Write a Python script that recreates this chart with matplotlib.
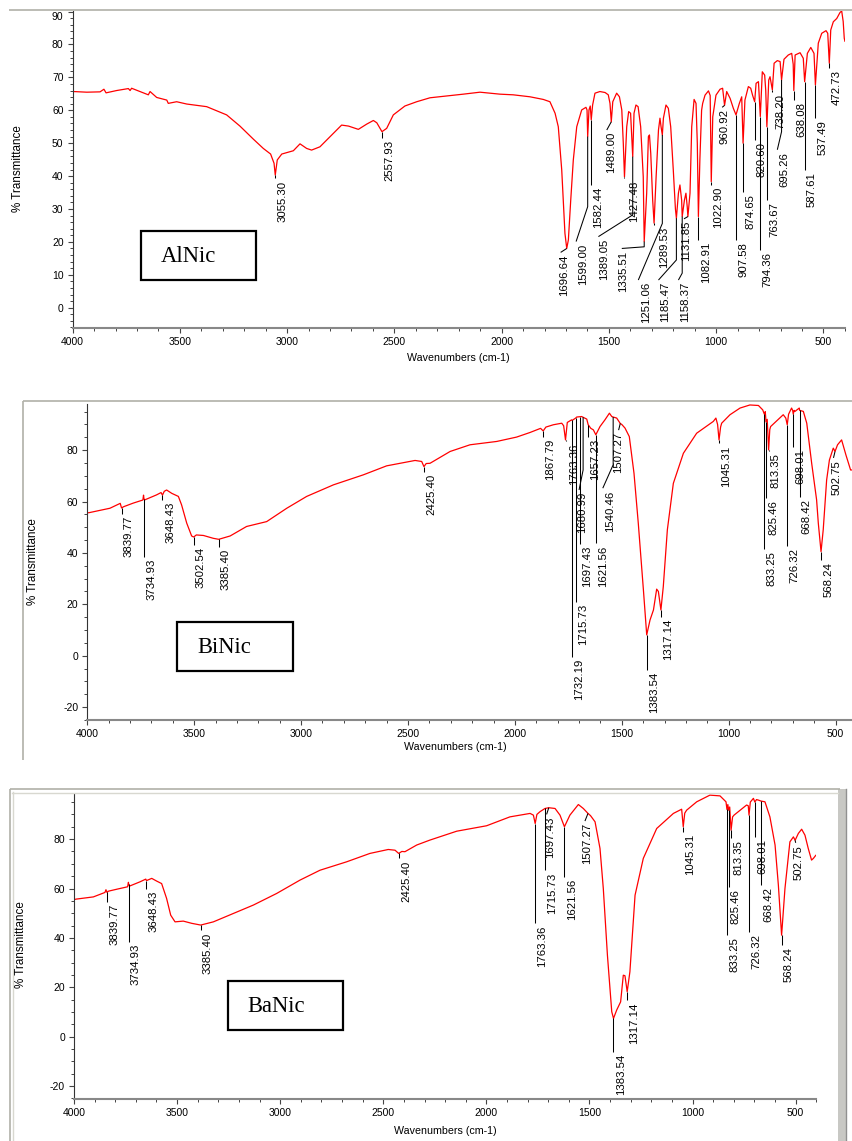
import numpy as np
import matplotlib
matplotlib.use('Agg')
import matplotlib.pyplot as plt
from matplotlib.patches import Rectangle

plt.rcParams['font.family'] = ['Liberation Sans', 'DejaVu Sans']
plt.rcParams['axes.unicode_minus'] = False

W, H = 853, 1141

# ---------------- AlNic ----------------
al_wn = [4000, 3996, 3934, 3872, 3854, 3844, 3795, 3740, 3732, 3725, 3686, 3647, 3639, 3608, 3561, 3554,
         3515, 3468, 3375, 3282, 3220, 3157, 3111, 3077, 3061, 3055.30, 3046, 3025, 2971, 2940, 2909, 2886,
         2847, 2784, 2746, 2714, 2668, 2629, 2598, 2582, 2557.93, 2536, 2505, 2451, 2396, 2334, 2179, 2101,
         2008, 1946, 1868, 1806, 1775, 1751, 1736, 1720, 1705, 1696.64, 1689, 1678, 1666, 1650, 1627, 1607,
         1602, 1599.00, 1593, 1587, 1582.44, 1576, 1565, 1542, 1518, 1503, 1495, 1489.00, 1482, 1464, 1451,
         1440, 1433, 1427.48, 1417, 1408, 1399, 1389.05, 1383, 1374, 1364, 1352, 1340, 1335.51, 1324, 1316,
         1311, 1305, 1296, 1289.53, 1280, 1269, 1262, 1257, 1251.06, 1246, 1234, 1223, 1212, 1200, 1190,
         1185.47, 1176, 1169, 1161, 1158.37, 1148, 1141, 1135, 1131.85, 1122, 1114, 1103, 1094, 1088,
         1082.91, 1076, 1068, 1063, 1052, 1036, 1028, 1022.90, 1016, 1001, 982, 970, 960.92, 951, 935, 920,
         907.58, 892, 881, 874.65, 866, 850, 839, 830, 820.60, 814, 803, 794.36, 785, 774, 769, 763.67, 755,
         749, 738.20, 730, 715, 702, 695.26, 684, 664, 648, 641, 638.08, 632, 609, 594, 587.61, 575, 559,
         544, 537.49, 524, 508, 488, 480, 472.73, 466, 454, 438, 423, 415, 408, 403, 400]
al_t = [65.8, 65.7, 65.5, 65.6, 66.4, 65.3, 66.0, 66.6, 66.0, 66.7, 65.7, 64.7, 65.7, 63.9, 63.1, 62.1,
        62.6, 61.9, 61.1, 58.6, 55.2, 51.2, 48.4, 46.7, 43.9, 40.3, 44.9, 46.7, 47.7, 49.8, 48.4, 47.9,
        48.9, 53.0, 55.5, 55.2, 54.2, 55.8, 56.9, 56.2, 53.5, 54.5, 58.6, 61.3, 62.6, 63.8, 64.9, 65.5,
        64.9, 64.7, 64.1, 63.3, 62.6, 59.1, 55.0, 41.9, 22.6, 18.0, 20.6, 32.7, 44.9, 55.0, 60.1, 60.9,
        60.1, 52.0, 60.1, 61.3, 57.1, 61.6, 65.2, 65.7, 65.4, 64.7, 62.1, 56.5, 62.6, 65.2, 64.1,
        60.1, 50.0, 39.8, 55.0, 59.6, 59.1, 45.9, 59.1, 61.6, 61.1, 55.0, 39.8, 20.1, 34.8, 52.0,
        52.5, 46.9, 32.7, 25.7, 39.8, 54.0, 57.6, 55.0, 52.5, 57.6, 61.6, 60.6, 55.0, 41.9, 30.0,
        27.2, 34.8, 37.3, 32.7, 27.7, 32.7, 34.8, 30.7, 27.7, 34.8, 55.0, 63.3, 62.1, 50.0,
        27.7, 45.0, 60.0, 62.1, 64.6, 65.9, 64.5, 38.3, 58.0, 64.6, 66.4, 66.7, 61.5, 65.7, 63.6, 60.6,
        58.6, 62.1, 64.1, 50.0, 63.1, 67.2, 66.7, 64.5, 62.6, 68.2, 68.7, 58.1, 71.7, 70.7, 66.0, 55.0, 69.2,
        70.2, 66.2, 74.3, 75.1, 74.8, 69.2, 75.5, 76.8, 77.3, 74.0, 66.0, 76.8, 77.5, 75.8, 68.7, 77.3, 79.1,
        77.3, 67.7, 80.4, 83.4, 84.2, 83.4, 74.3, 84.4, 86.9, 87.9, 89.7, 90.2, 87.0, 81.9, 81.0]
al_peaks = [3055.30, 2557.93, 1696.64, 1599.00, 1582.44, 1489.00, 1427.48, 1389.05, 1335.51, 1289.53,
            1251.06, 1185.47, 1158.37, 1131.85, 1082.91, 1022.90, 960.92, 907.58, 874.65, 820.60,
            794.36, 763.67, 738.20, 695.26, 638.08, 587.61, 537.49, 472.73]

# ---------------- BiNic ----------------
bi_wn = [4000, 3990, 3894, 3846, 3839.77, 3830, 3785, 3740, 3737, 3734.93, 3730, 3676, 3655, 3648.43, 3640,
         3629, 3605, 3574, 3559, 3535, 3512, 3502.54, 3490, 3457, 3411, 3385.40, 3332, 3255, 3161, 3067,
         2974, 2849, 2709, 2600, 2467, 2436, 2425.40, 2415, 2397, 2303, 2210, 2085, 1992, 1929, 1880,
         1867.79, 1855, 1820, 1781, 1772, 1763.36, 1755, 1735, 1732.19, 1715.73, 1711, 1697.43, 1688,
         1680.99, 1664, 1657.23, 1645, 1633, 1621.56, 1602, 1579, 1558, 1547, 1540.46, 1524, 1507.27, 1500,
         1485, 1465, 1443, 1423, 1399, 1383.54, 1368, 1352, 1337, 1329, 1317.14, 1306, 1287, 1259, 1212,
         1150, 1072, 1060, 1052, 1045.31, 1038, 1033, 994, 947, 901, 861, 841, 833.25, 829, 825.46, 820,
         813.35, 808, 804, 745, 733, 726.32, 720, 706, 701, 698.01, 694, 690, 670, 668.42, 651, 635, 612,
         589, 581, 568.24, 558, 542, 529, 511, 502.75, 491, 472, 452, 430, 420, 405, 400]
bi_t = [55.6, 55.7, 57.4, 59.3, 57.5, 58.0, 59.4, 60.6, 62.5, 61.0, 60.7, 62.6, 63.5, 62.5, 64.0,
        64.5, 63.2, 62.0, 58.7, 51.6, 46.6, 46.2, 47.0, 46.8, 45.7, 45.3, 46.6, 50.3, 52.2, 57.4,
        62.0, 66.5, 70.4, 73.9, 76.0, 75.6, 73.6, 74.8, 74.9, 79.5, 82.1, 83.4, 85.1, 86.9, 88.5,
        87.5, 89.0, 89.9, 90.5, 89.5, 84.0, 90.8, 91.8, 91.6, 92.5, 92.9, 93.0, 93.1,
        92.8, 92.1, 89.9, 88.5, 87.9, 86.0, 89.2, 91.8, 94.4, 93.1, 92.9, 92.5, 90.4, 90.0,
        88.6, 85.3, 71.0, 51.6, 25.6, 8.1, 13.9, 17.8, 25.9, 25.0, 17.8, 26.9, 49.0, 67.1, 78.8,
        86.6, 91.2, 92.5, 90.0, 84.0, 89.0, 90.5, 93.8, 96.4, 97.6, 97.4, 95.7, 94.0, 95.0, 91.0, 92.0,
        80.1, 88.0, 89.2, 93.8, 92.5, 89.9, 94.0, 96.4, 95.5, 94.0, 95.5, 95.1, 96.4, 95.5, 95.1, 90.5, 74.9,
        60.7, 51.6, 40.5, 49.0, 68.4, 76.2, 80.8, 79.5, 82.1, 84.0, 78.2, 72.3, 72.3, 71.0, 70.5]
bi_peaks = [3839.77, 3734.93, 3648.43, 3502.54, 3385.40, 2425.40, 1867.79, 1763.36, 1732.19, 1715.73,
            1697.43, 1680.99, 1657.23, 1621.56, 1540.46, 1507.27, 1383.54, 1317.14, 1045.31, 833.25,
            825.46, 813.35, 726.32, 698.01, 668.42, 568.24, 502.75]

# ---------------- BaNic ----------------
ba_wn = [4000, 3990, 3906, 3850, 3845, 3839.77, 3834, 3793, 3740, 3736, 3734.93, 3730, 3680, 3652, 3648.43,
         3623, 3599, 3575, 3551, 3531, 3510, 3470, 3429, 3385.40, 3324, 3227, 3130, 3017, 2904, 2807, 2678,
         2565, 2476, 2443, 2425.40, 2410, 2395, 2338, 2274, 2144, 1999, 1886, 1788, 1772, 1763.36, 1755,
         1740, 1715.73, 1697.43, 1667, 1643, 1621.56, 1595, 1554, 1530, 1507.27, 1495, 1473, 1449, 1433,
         1413, 1392, 1383.54, 1368, 1349, 1336, 1328, 1317.14, 1304, 1279, 1239, 1174, 1093, 1053, 1045.31,
         1038, 1029, 980, 916, 867, 838, 833.25, 829, 825.46, 820, 813.35, 806, 799, 738, 730, 726.32, 720,
         705, 698.01, 690, 681, 668.42, 649, 625, 600, 584, 568.24, 552, 528, 511, 502.75, 487, 471, 455,
         439, 423, 414, 402, 400]
ba_t = [55.5, 55.7, 56.6, 58.4, 59.5, 58.4, 58.9, 59.7, 60.7, 62.5, 61.7, 61.0, 62.7, 63.8, 63.2,
        64.1, 63.0, 62.0, 56.0, 49.2, 46.5, 46.8, 45.9, 45.2, 46.5, 49.9, 53.3, 58.0, 63.4, 67.4, 70.8,
        74.2, 75.8, 75.5, 74.2, 75.0, 74.9, 77.6, 79.6, 83.2, 85.4, 89.0, 90.4, 89.7, 86.3, 90.0,
        91.1, 92.4, 92.7, 92.4, 89.7, 85.0, 89.7, 94.0, 92.4, 90.4, 89.5, 87.0, 76.2, 60.0,
        33.0, 10.1, 7.4, 10.8, 14.1, 24.9, 24.7, 18.2, 26.3, 57.3, 72.2, 84.3, 90.4, 92.1, 85.0,
        90.5, 91.7, 95.1, 97.8, 97.5, 95.1, 92.0, 94.0, 91.7, 93.0, 83.6, 89.0, 89.7, 93.8, 93.5, 89.7, 95.0,
        96.5, 95.0, 96.0, 95.8, 95.4, 95.1, 89.0, 77.6, 61.4, 41.1, 60.0, 78.9, 80.9, 79.5, 82.3, 84.0, 81.6,
        76.2, 71.5, 72.2, 73.5, 73.5]
ba_peaks = [3839.77, 3734.93, 3648.43, 3385.40, 2425.40, 1763.36, 1715.73, 1697.43, 1621.56, 1507.27,
            1383.54, 1317.14, 1045.31, 833.25, 825.46, 813.35, 726.32, 698.01, 668.42, 568.24, 502.75]

# leader-line layout for each peak label: (T at line end, T at knee, wn at line end, wn of text)
N = None
al_pos = [(39.3, N, N, N), (51.5, N, N, N), (16.8, N, 1725, 1733), (20.1, 30.7, 1653, N), (37.3, N, N, N),
          (54.0, N, 1510, 1513), (39.3, N, N, 1405), (21.6, 28.2, 1549, 1545), (18.0, 18.5, 1440, 1456),
          (25.1, N, N, 1265), (8.4, 25.6, 1363, 1350), (8.4, 14.5, 1269, 1262), (8.4, 10.5, 1176, 1170),
          (27.0, N, 1150, 1164), (20.6, N, N, N), (37.3, N, N, N), (60.9, N, 972, 985), (20.6, N, N, N),
          (35.3, N, N, N), (51.0, N, N, 811), (17.5, N, N, N), (32.7, N, N, N), (65.7, N, N, 726),
          (48.0, 53.5, 715, 705), (63.1, N, N, N), (41.9, N, N, N), (57.6, N, N, N), (72.8, N, N, N)]
bi_pos = [(55.2, N, N, N), (38.6, N, N, N), (60.6, N, N, 3632), (43.1, N, N, N), (42.5, N, N, N),
          (71.7, N, N, N), (85.3, N, N, N), (83.4, N, N, 1745), (-0.4, N, N, N), (21.0, N, N, N),
          (43.5, N, N, N), (64.5, 72.3, 1700, 1711), (85.3, N, N, N), (43.8, N, N, N),
          (65.2, 74.3, 1589, 1579), (87.8, N, 1515, 1540), (-5.6, N, N, N), (15.2, N, N, N),
          (82.7, N, N, N), (41.4, N, N, N), (61.3, N, N, N), (79.5, N, N, N), (42.7, N, N, N),
          (81.4, N, N, N), (61.7, N, N, N), (37.3, N, N, N), (77.0, N, 510, 518)]
ba_pos = [(54.6, N, N, N), (38.4, N, N, N), (60.0, N, N, N), (43.1, N, N, N), (72.2, N, N, N),
          (45.9, N, N, N), (67.4, N, N, N), (90.0, N, 1708, 1716), (64.7, N, N, N), (87.3, N, 1522, 1538),
          (-6.1, N, N, N), (14.8, N, N, N), (83.0, N, N, N), (41.1, N, N, N), (60.7, N, N, N),
          (80.3, N, N, N), (42.5, N, N, N), (81.0, N, N, N), (61.4, N, N, N), (37.1, N, N, N),
          (78.5, N, 500, 511)]


def px_axes(fig, left, right, top, bottom):
    return fig.add_axes([left / W, 1 - bottom / H, (right - left) / W, (bottom - top) / H])


def setup(ax, ylim, ymaj, ymin):
    ax.set_xlim(4000, 400)
    ax.set_ylim(*ylim)
    ax.set_xticks(np.arange(4000, 499, -500))
    ax.set_xticks(np.arange(4000, 399, -100), minor=True)
    ax.set_yticks(ymaj)
    ax.set_yticks(ymin, minor=True)
    ax.set_xticklabels([str(v) for v in np.arange(4000, 499, -500)])
    ax.set_yticklabels([str(v) for v in ymaj])
    for s in ('top', 'right'):
        ax.spines[s].set_visible(False)
    ax.spines['left'].set_color('#333333')
    ax.spines['left'].set_linewidth(0.8)
    ax.spines['bottom'].set_color('#888888')
    ax.spines['bottom'].set_linewidth(1.5)
    ax.tick_params(which='major', direction='out', length=3.5, width=0.8, color='#444444',
                   labelsize=7.5, pad=3)
    ax.tick_params(which='minor', direction='out', length=2, width=0.7, color='#444444')
    ax.patch.set_alpha(0)


def draw_peaks(ax, wn, t, peaks, pos):
    wn = np.asarray(wn, float)[::-1]
    t = np.asarray(t, float)[::-1]
    for p, (t_end, knee, wn_end, wn_text) in zip(peaks, pos):
        t_pk = np.interp(p, wn, t)
        if wn_end is None:
            wn_end = p
            knee = t_end if knee is None else knee
        elif knee is None:
            knee = t_pk
        ax.plot([p, p, wn_end], [t_pk, knee, t_end], color='black', lw=0.75, solid_capstyle='butt')
        if wn_text is None:
            x, dx = wn_end, 1.6
        else:
            x, dx = wn_text, 0
        ax.annotate('%.2f' % p, xy=(x, t_end), xytext=(dx, -1.5), textcoords='offset points',
                    rotation=90, ha='left', va='top', fontsize=8.2, annotation_clip=False)


fig = plt.figure(figsize=(W / 100, H / 100), dpi=100)

# AlNic panel
ax1 = px_axes(fig, 72.6, 844.9, 10.6, 328.4)
setup(ax1, (-6.3, 90.3), np.arange(0, 91, 10), np.arange(-6, 91, 2))
ax1.plot(al_wn, al_t, color='#ff0000', lw=0.9)
draw_peaks(ax1, al_wn, al_t, al_peaks, al_pos)
ax1.yaxis.get_major_ticks()[-1].label1.set_verticalalignment('top')

# BiNic panel
ax2 = px_axes(fig, 87.3, 857.0, 404.2, 719.9)
setup(ax2, (-25.0, 97.9), np.arange(-20, 81, 20), np.arange(-25, 96, 5))
ax2.plot(bi_wn, bi_t, color='#ff0000', lw=0.9)
draw_peaks(ax2, bi_wn, bi_t, bi_peaks, bi_pos)

# BaNic panel
ax3 = px_axes(fig, 74.0, 816.3, 793.9, 1099.2)
setup(ax3, (-25.3, 98.3), np.arange(-20, 81, 20), np.arange(-25, 96, 5))
ax3.plot(ba_wn, ba_t, color='#ff0000', lw=0.9)
draw_peaks(ax3, ba_wn, ba_t, ba_peaks, ba_pos)

# overlay in pixel coordinates: window frames, axis titles, sample boxes
ov = fig.add_axes([0, 0, 1, 1])
ov.set_xlim(0, W)
ov.set_ylim(H, 0)
ov.axis('off')
ov.patch.set_alpha(0)

frame = dict(color='#b0b0a8', lw=1.2, solid_capstyle='butt')
ov.plot([9, W], [10, 10], **frame)
ov.plot([23, W], [401, 401], **frame)
ov.plot([23, 23], [401, 760], **frame)
ov.plot([10, 840], [789, 789], **frame)
ov.plot([12, 838], [792.5, 792.5], color='#d8d8d0', lw=1.0)
ov.plot([10, 10], [789, H], **frame)
ov.plot([13, 13], [792, H], color='#d8d8d0', lw=1.0)
ov.add_patch(Rectangle((838, 789), 8, H - 789, facecolor='#c8c8c4', edgecolor='none'))
ov.plot([846, 846], [789, H], color='#909090', lw=1.0)

ylab = dict(rotation=90, ha='center', va='center', fontsize=8.4)
ov.text(18, 169, '% Transmittance', **ylab)
ov.text(33, 562, '% Transmittance', **ylab)
ov.text(21, 945, '% Transmittance', **ylab)
xlab = dict(ha='center', va='center', fontsize=7.7)
ov.text(458, 358, 'Wavenumbers (cm-1)', **xlab)
ov.text(455, 747, 'Wavenumbers (cm-1)', **xlab)
ov.text(445, 1131, 'Wavenumbers (cm-1)', **xlab)

for name, (bx, by), base in [('AlNic', (140.7, 230.7), 262.3),
                             ('BiNic', (177.3, 621.7), 653.3),
                             ('BaNic', (227.7, 980.7), 1011.7)]:
    ov.add_patch(Rectangle((bx, by), 115.3, 49.3, facecolor='white', edgecolor='black', lw=1.6))
    ov.text(bx + 20, base, name, family='Liberation Serif', fontsize=16.3, ha='left', va='baseline')

fig.savefig('out.png', dpi=100)
